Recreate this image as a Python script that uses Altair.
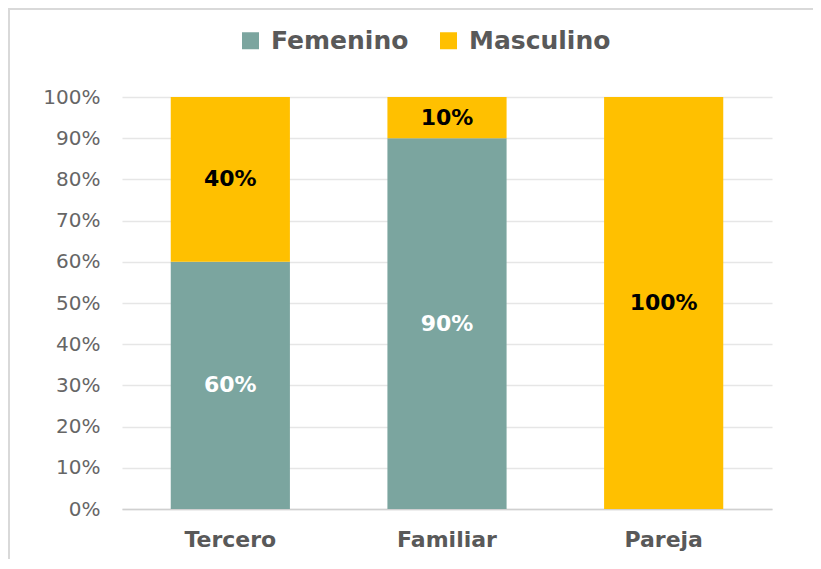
import altair as alt
import pandas as pd

categories = ["Tercero", "Familiar", "Pareja"]
series = ["Femenino", "Masculino"]
femenino = [60, 90, 0]
masculino = [40, 10, 100]
colors = ["#7BA59F", "#FFC000"]
label_colors = ["#FFFFFF", "#000000"]
y_ticks = [0, 10, 20, 30, 40, 50, 60, 70, 80, 90, 100]

rows = []
for i, c in enumerate(categories):
    rows.append({"cat": c, "serie": series[0], "value": femenino[i], "ord": 0, "tcol": label_colors[0]})
    rows.append({"cat": c, "serie": series[1], "value": masculino[i], "ord": 1, "tcol": label_colors[1]})
df = pd.DataFrame(rows)

FONT = "DejaVu Sans"
GRAY = "#595959"

base = alt.Chart(df).transform_stack(
    stack="value", as_=["y0", "y1"], groupby=["cat"], sort=[alt.SortField("ord", order="ascending")]
).transform_calculate(mid="(datum.y0 + datum.y1) / 2")

x_enc = alt.X(
    "cat:N", sort=categories, title=None,
    scale=alt.Scale(paddingInner=0.45, paddingOuter=0.225),
    axis=alt.Axis(labelAngle=0, labelFont=FONT, labelFontSize=22, labelFontWeight="bold",
                  labelColor=GRAY, ticks=False, tickSize=0, labelPadding=20,
                  domainColor="#D0D0D0", domainWidth=1.5, grid=False),
)

bars = base.mark_bar().encode(
    x=x_enc,
    y=alt.Y("y1:Q", title=None,
            scale=alt.Scale(domain=[0, 100], nice=False),
            axis=alt.Axis(values=y_ticks, labelExpr="datum.value + '%'", labelFont=FONT,
                          labelFontSize=20, labelColor="#666666", ticks=False, tickSize=0,
                          labelPadding=22, domain=False, gridColor="#E6E6E6", gridWidth=1.5)),
    y2="y0:Q",
    color=alt.Color("serie:N", sort=series,
                    scale=alt.Scale(domain=series, range=colors),
                    legend=alt.Legend(orient="none", legendX=116, legendY=-69, direction="horizontal",
                                      title=None, symbolType="square", symbolSize=289,
                                      labelFontSize=25, labelFont=FONT, labelFontWeight="bold",
                                      labelColor=GRAY, columnPadding=27, labelOffset=8,
                                      symbolStrokeWidth=0, padding=0)),
)

texts = base.transform_filter("datum.value > 0").mark_text(
    font=FONT, fontSize=22, fontWeight="bold", baseline="middle", align="center"
).encode(
    x=alt.X("cat:N", sort=categories),
    y=alt.Y("mid:Q"),
    text=alt.Text("label:N"),
    color=alt.Color("tcol:N", scale=None, legend=None),
).transform_calculate(label="datum.value + '%'")

border_df = pd.DataFrame({"a": [0]})
left_border = alt.Chart(border_df).mark_rule(color="#D9D9D9", strokeWidth=2).encode(
    x=alt.value(-113), y=alt.value(-89), y2=alt.value(475)
)
top_border = alt.Chart(border_df).mark_rule(color="#D9D9D9", strokeWidth=2).encode(
    x=alt.value(-114), x2=alt.value(691), y=alt.value(-88)
)

chart = alt.layer(bars, texts, left_border, top_border).resolve_scale(color="independent").properties(
    width=650, height=412,
    autosize=alt.AutoSizeParams(type="none"),
    padding={"left": 114, "top": 89, "right": 41, "bottom": 50},
).configure_view(stroke=None)

chart.save("out.html", embed_options={"renderer": "svg", "actions": False})
